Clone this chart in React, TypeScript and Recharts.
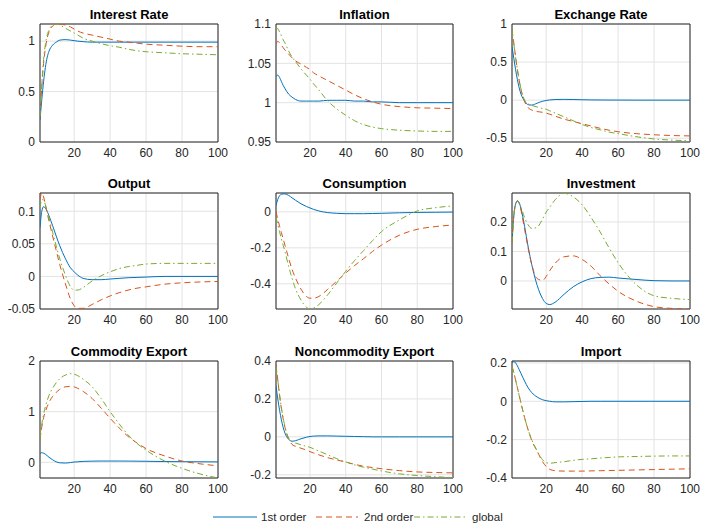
import { LineChart, Line, XAxis, YAxis, CartesianGrid, ReferenceArea } from 'recharts';

const periods = [1, 2, 3, 4, 5, 6, 8, 10, 12, 15, 18, 20, 22, 25, 30, 35, 40, 45, 50, 55, 60, 70, 80, 90, 100];

const interestFirst = [0.22, 0.42, 0.6, 0.74, 0.84, 0.9, 0.96, 0.99, 1.01, 1.015, 1.01, 1.005, 1.0, 0.995, 0.99, 0.99, 0.99, 0.99, 0.99, 0.99, 0.99, 0.99, 0.99, 0.99, 0.99];
const interestSecond = [0.25, 0.55, 0.78, 0.93, 1.03, 1.09, 1.15, 1.17, 1.17, 1.16, 1.14, 1.12, 1.1, 1.08, 1.06, 1.04, 1.02, 1.0, 0.99, 0.98, 0.97, 0.96, 0.95, 0.945, 0.945];
const interestGlobal = [0.25, 0.58, 0.82, 0.97, 1.06, 1.11, 1.16, 1.17, 1.16, 1.13, 1.1, 1.08, 1.06, 1.03, 1.0, 0.975, 0.955, 0.94, 0.92, 0.905, 0.895, 0.885, 0.875, 0.87, 0.865];

const inflationFirst = [1.033, 1.035, 1.032, 1.027, 1.022, 1.018, 1.011, 1.007, 1.004, 1.002, 1.002, 1.002, 1.002, 1.002, 1.003, 1.003, 1.003, 1.002, 1.002, 1.001, 1.001, 1.0, 1.0, 1.0, 1.0];
const inflationSecond = [1.074, 1.078, 1.076, 1.073, 1.07, 1.067, 1.062, 1.057, 1.053, 1.049, 1.045, 1.042, 1.038, 1.034, 1.028, 1.022, 1.016, 1.01, 1.005, 1.001, 0.998, 0.995, 0.9935, 0.993, 0.9925];
const inflationGlobal = [1.096, 1.094, 1.09, 1.085, 1.08, 1.076, 1.066, 1.058, 1.052, 1.043, 1.035, 1.03, 1.024, 1.016, 1.002, 0.992, 0.984, 0.977, 0.972, 0.969, 0.967, 0.965, 0.964, 0.9635, 0.9635];

const exchangeFirst = [0.7, 0.55, 0.4, 0.27, 0.16, 0.08, -0.01, -0.06, -0.065, -0.04, -0.015, -0.005, 0.003, 0.008, 0.01, 0.008, 0.005, 0.003, 0.002, 0.001, 0.001, 0, 0, 0, 0];
const exchangeSecond = [0.93, 0.75, 0.57, 0.4, 0.26, 0.14, -0.02, -0.1, -0.13, -0.15, -0.16, -0.17, -0.185, -0.21, -0.25, -0.28, -0.31, -0.34, -0.37, -0.395, -0.415, -0.44, -0.455, -0.465, -0.47];
const exchangeGlobal = [0.92, 0.74, 0.56, 0.4, 0.26, 0.15, 0.0, -0.05, -0.07, -0.09, -0.11, -0.12, -0.14, -0.17, -0.22, -0.27, -0.32, -0.36, -0.39, -0.42, -0.44, -0.48, -0.51, -0.525, -0.535];

const outputFirst = [0.075, 0.1, 0.107, 0.105, 0.1, 0.093, 0.078, 0.062, 0.047, 0.028, 0.013, 0.007, 0.002, -0.003, -0.005, -0.005, -0.004, -0.003, -0.002, -0.0015, -0.001, 0, 0, 0, 0];
const outputSecond = [0.118, 0.128, 0.122, 0.11, 0.097, 0.085, 0.062, 0.04, 0.018, -0.01, -0.035, -0.045, -0.049, -0.049, -0.043, -0.036, -0.03, -0.025, -0.021, -0.018, -0.016, -0.012, -0.0098, -0.0085, -0.0078];
const outputGlobal = [0.105, 0.118, 0.117, 0.11, 0.1, 0.09, 0.068, 0.047, 0.027, 0.003, -0.016, -0.021, -0.021, -0.017, -0.007, 0.001, 0.007, 0.012, 0.015, 0.017, 0.019, 0.02, 0.02, 0.02, 0.02];

const consumptionFirst = [0.035, 0.07, 0.09, 0.098, 0.1, 0.1, 0.092, 0.078, 0.064, 0.045, 0.03, 0.022, 0.014, 0.005, -0.004, -0.008, -0.01, -0.01, -0.01, -0.009, -0.008, -0.005, -0.003, -0.002, -0.001];
const consumptionSecond = [0, -0.04, -0.08, -0.115, -0.15, -0.185, -0.255, -0.32, -0.37, -0.43, -0.47, -0.48, -0.48, -0.47, -0.43, -0.385, -0.34, -0.298, -0.26, -0.22, -0.185, -0.13, -0.097, -0.082, -0.073];
const consumptionGlobal = [-0.03, -0.07, -0.11, -0.15, -0.185, -0.22, -0.3, -0.37, -0.43, -0.49, -0.53, -0.54, -0.535, -0.515, -0.46, -0.395, -0.33, -0.27, -0.215, -0.16, -0.11, -0.045, 0.005, 0.023, 0.033];

const investmentFirst = [0.13, 0.22, 0.26, 0.272, 0.265, 0.245, 0.185, 0.115, 0.055, -0.015, -0.06, -0.076, -0.08, -0.072, -0.045, -0.02, -0.003, 0.008, 0.012, 0.013, 0.01, 0.005, 0.001, 0, 0];
const investmentSecond = [0.13, 0.22, 0.26, 0.27, 0.262, 0.24, 0.175, 0.11, 0.055, 0.008, 0.002, 0.015, 0.035, 0.06, 0.082, 0.085, 0.073, 0.05, 0.018, -0.01, -0.035, -0.068, -0.087, -0.093, -0.095];
const investmentGlobal = [0.13, 0.22, 0.26, 0.27, 0.265, 0.25, 0.215, 0.19, 0.178, 0.182, 0.21, 0.233, 0.25, 0.275, 0.297, 0.285, 0.258, 0.215, 0.166, 0.112, 0.062, -0.012, -0.05, -0.059, -0.063];

const commodityFirst = [0.17, 0.19, 0.18, 0.16, 0.13, 0.1, 0.05, 0.01, -0.01, -0.015, -0.005, 0.005, 0.01, 0.018, 0.023, 0.025, 0.025, 0.025, 0.024, 0.022, 0.02, 0.015, 0.012, 0.01, 0.008];
const commoditySecond = [0.45, 0.7, 0.88, 1.0, 1.1, 1.18, 1.3, 1.38, 1.44, 1.49, 1.5, 1.49, 1.46, 1.4, 1.26, 1.07, 0.87, 0.68, 0.51, 0.38, 0.27, 0.13, 0.025, -0.03, -0.07];
const commodityGlobal = [0.45, 0.75, 0.95, 1.1, 1.22, 1.32, 1.46, 1.57, 1.65, 1.72, 1.75, 1.74, 1.71, 1.64, 1.49, 1.26, 1.0, 0.76, 0.54, 0.37, 0.24, 0.03, -0.12, -0.23, -0.31];

const noncomFirst = [0.27, 0.2, 0.14, 0.09, 0.05, 0.02, -0.012, -0.023, -0.02, -0.01, -0.002, 0.002, 0.004, 0.005, 0.005, 0.004, 0.003, 0.002, 0.001, 0, 0, 0, 0, 0, 0];
const noncomSecond = [0.38, 0.3, 0.22, 0.15, 0.095, 0.05, -0.01, -0.04, -0.05, -0.06, -0.07, -0.078, -0.085, -0.095, -0.11, -0.122, -0.133, -0.145, -0.155, -0.162, -0.168, -0.178, -0.185, -0.188, -0.19];
const noncomGlobal = [0.37, 0.3, 0.22, 0.155, 0.1, 0.055, -0.005, -0.025, -0.033, -0.042, -0.05, -0.055, -0.063, -0.075, -0.095, -0.115, -0.132, -0.148, -0.16, -0.17, -0.18, -0.195, -0.204, -0.21, -0.215];

const importFirst = [0.2, 0.207, 0.2, 0.185, 0.165, 0.145, 0.105, 0.07, 0.045, 0.022, 0.008, 0.003, 0, -0.003, -0.003, -0.002, -0.001, 0, 0, 0, 0, 0, 0, 0, 0];
const importSecond = [0.18, 0.15, 0.11, 0.07, 0.03, -0.01, -0.085, -0.15, -0.205, -0.26, -0.315, -0.34, -0.355, -0.362, -0.364, -0.364, -0.364, -0.363, -0.362, -0.361, -0.36, -0.358, -0.356, -0.354, -0.352];
const importGlobal = [0.18, 0.15, 0.11, 0.07, 0.03, -0.01, -0.085, -0.15, -0.2, -0.26, -0.305, -0.32, -0.323, -0.32, -0.315, -0.308, -0.303, -0.3, -0.296, -0.293, -0.29, -0.288, -0.286, -0.285, -0.285];

const xTicks = [20, 40, 60, 80, 100];

const panels = [
  { title: 'Interest Rate', s: [interestFirst, interestSecond, interestGlobal], domain: [0, 1.17], ticks: [0, 0.5, 1] },
  { title: 'Inflation', s: [inflationFirst, inflationSecond, inflationGlobal], domain: [0.95, 1.1], ticks: [0.95, 1, 1.05, 1.1] },
  { title: 'Exchange Rate', s: [exchangeFirst, exchangeSecond, exchangeGlobal], domain: [-0.55, 1], ticks: [-0.5, 0, 0.5, 1] },
  { title: 'Output', s: [outputFirst, outputSecond, outputGlobal], domain: [-0.05, 0.128], ticks: [-0.05, 0, 0.05, 0.1] },
  { title: 'Consumption', s: [consumptionFirst, consumptionSecond, consumptionGlobal], domain: [-0.54, 0.105], ticks: [-0.4, -0.2, 0] },
  { title: 'Investment', s: [investmentFirst, investmentSecond, investmentGlobal], domain: [-0.095, 0.298], ticks: [0, 0.1, 0.2] },
  { title: 'Commodity Export', s: [commodityFirst, commoditySecond, commodityGlobal], domain: [-0.31, 2], ticks: [0, 1, 2] },
  { title: 'Noncommodity Export', s: [noncomFirst, noncomSecond, noncomGlobal], domain: [-0.217, 0.4], ticks: [-0.2, 0, 0.2, 0.4] },
  { title: 'Import', s: [importFirst, importSecond, importGlobal], domain: [-0.4, 0.21], ticks: [-0.4, -0.2, 0, 0.2] },
];

// plot-area layout (matlab subplot positions)
const colLeft = [40, 276, 512];
const colWidth = [178, 177, 178];
const rowTop = [24, 193, 361];
const rowHeight = [118, 116, 117];
const YW = 40;
const PAD_T = 8;
const PAD_R = 14;

const BLUE = '#0072BD';
const RED = '#D95319';
const GREEN = '#77AC30';
const INK = '#262626';
const FONT = '"Liberation Sans", Arial, Helvetica, sans-serif';

function Panel({ p, idx }: { p: any; idx: number }) {
  const col = idx % 3;
  const row = Math.floor(idx / 3);
  const w = colWidth[col];
  const h = rowHeight[row];
  const left = colLeft[col];
  const top = rowTop[row];
  const data = periods.map((t, i) => ({ t, first: p.s[0][i], second: p.s[1][i], global: p.s[2][i] }));

  return (
    <>
      <div
        style={{
          position: 'absolute',
          left,
          width: w,
          top: top - 16,
          textAlign: 'center',
          fontWeight: 'bold',
          fontSize: 13,
          lineHeight: '13px',
          color: '#000',
          whiteSpace: 'nowrap',
        }}
      >
        {p.title}
      </div>
      <div style={{ position: 'absolute', left: left - YW, top: top - PAD_T }}>
        <LineChart
          width={YW + w + PAD_R}
          height={PAD_T + h + 22}
          data={data}
          margin={{ top: PAD_T, right: PAD_R, left: 0, bottom: 0 }}
        >
          <CartesianGrid stroke="#e3e3e3" />
          <XAxis
            dataKey="t"
            type="number"
            domain={[1, 100]}
            ticks={xTicks}
            allowDataOverflow
            axisLine={false}
            tickLine={false}
            tickSize={0}
            tickMargin={6}
            height={22}
            tick={{ fill: INK, fontSize: 12 }}
            interval={0}
          />
          <YAxis
            type="number"
            domain={p.domain}
            ticks={p.ticks}
            allowDataOverflow
            axisLine={false}
            tickLine={false}
            tickSize={0}
            tickMargin={5}
            width={YW}
            tick={{ fill: INK, fontSize: 12 }}
            interval={0}
          />
          <Line type="monotone" dataKey="first" stroke={BLUE} strokeWidth={1} dot={false} isAnimationActive={false} />
          <Line type="monotone" dataKey="second" stroke={RED} strokeWidth={1} strokeDasharray="6 4" dot={false} isAnimationActive={false} />
          <Line type="monotone" dataKey="global" stroke={GREEN} strokeWidth={1} strokeDasharray="6 3 1.5 3" dot={false} isAnimationActive={false} />
          <ReferenceArea x1={1} x2={100} y1={p.domain[0]} y2={p.domain[1]} fill="none" stroke={INK} strokeWidth={1} ifOverflow="visible" />
        </LineChart>
      </div>
    </>
  );
}

export default function App() {
  return (
    <div style={{ position: 'absolute', left: 0, top: 0, width: 703, height: 523, background: '#fff', fontFamily: FONT }}>
      {panels.map((p, i) => (
        <Panel key={p.title} p={p} idx={i} />
      ))}
      <svg width={703} height={20} style={{ position: 'absolute', left: 0, top: 507 }}>
        <line x1={213} x2={257} y1={10} y2={10} stroke={BLUE} strokeWidth={1} />
        <text x={261} y={14} fontSize={11.5} fill={INK} fontFamily={FONT}>1st order</text>
        <line x1={316} x2={358} y1={10} y2={10} stroke={RED} strokeWidth={1} strokeDasharray="6 4" />
        <text x={364} y={14} fontSize={11.5} fill={INK} fontFamily={FONT}>2nd order</text>
        <line x1={414} x2={468} y1={10} y2={10} stroke={GREEN} strokeWidth={1} strokeDasharray="6 3 1.5 3" />
        <text x={472} y={14} fontSize={11.5} fill={INK} fontFamily={FONT}>global</text>
      </svg>
    </div>
  );
}
